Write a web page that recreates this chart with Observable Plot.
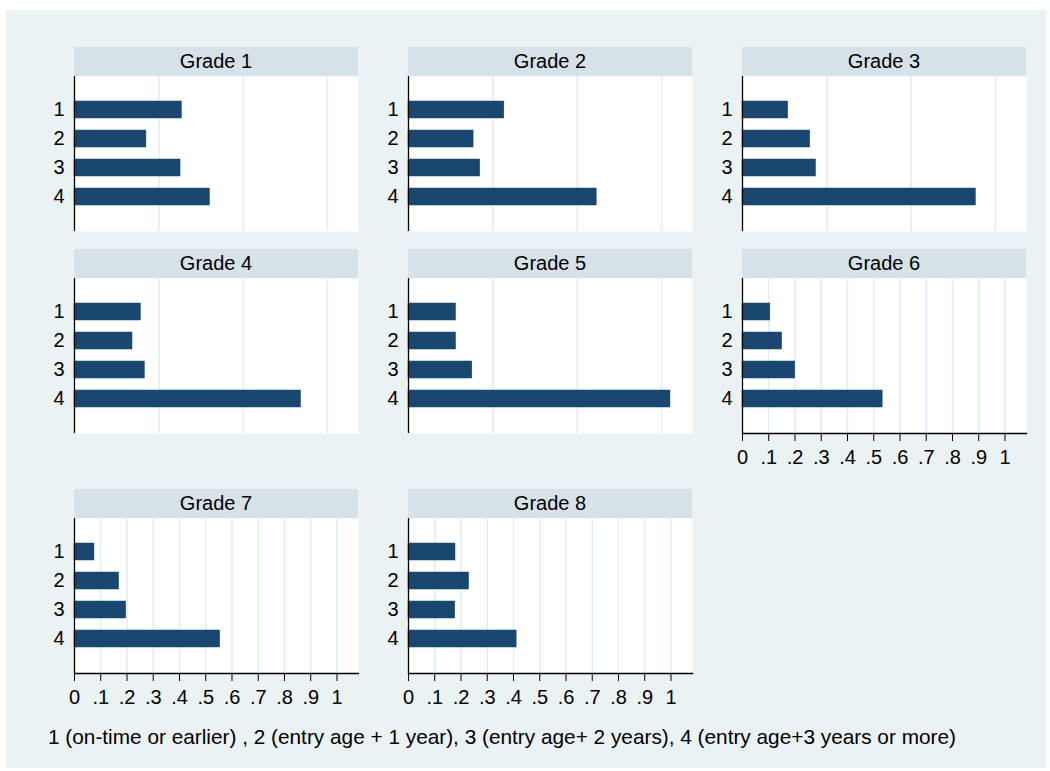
<!DOCTYPE html>
<html>
<head>
<meta charset="utf-8">
<script src="https://cdn.jsdelivr.net/npm/d3@7"></script>
<script src="https://cdn.jsdelivr.net/npm/@observablehq/plot@0.6"></script>
<style>
  body { margin: 0; background: #fff; font-family: Arial, "Liberation Sans", sans-serif; }
  #chart { position: relative; width: 1050px; height: 771px; background: #fff; overflow: hidden; }
  #region { position: absolute; left: 6px; top: 10px; width: 1040px; height: 758px; background: #eaf2f3; }
  .strip { position: absolute; height: 29px; background: #d6e2e7; color: #000; font-size: 20px;
           line-height: 29px; text-align: center; white-space: nowrap; }
  .panel { position: absolute; }
  .panel svg { display: block; }
  #note { position: absolute; left: 48px; top: 725px; font-size: 20.8px; line-height: 24px;
          color: #000; white-space: nowrap; }
</style>
</head>
<body>
<div id="chart">
  <div id="region"></div>
  <div id="note"></div>
</div>
<script>
// Share of pupils by entry-age group, one panel per grade
const grades = ["Grade 1", "Grade 2", "Grade 3", "Grade 4", "Grade 5", "Grade 6", "Grade 7", "Grade 8"];
const categories = ["1", "2", "3", "4"];
const grade1 = [0.409, 0.274, 0.404, 0.516];
const grade2 = [0.365, 0.248, 0.273, 0.717];
const grade3 = [0.174, 0.258, 0.280, 0.889];
const grade4 = [0.253, 0.221, 0.268, 0.863];
const grade5 = [0.181, 0.181, 0.243, 0.998];
const grade6 = [0.106, 0.151, 0.201, 0.534];
const grade7 = [0.076, 0.170, 0.197, 0.555];
const grade8 = [0.179, 0.231, 0.178, 0.412];
const shares = [grade1, grade2, grade3, grade4, grade5, grade6, grade7, grade8];

// x axis ticks shown under the panels that have nothing below them
const tickValues = [0, 0.1, 0.2, 0.3, 0.4, 0.5, 0.6, 0.7, 0.8, 0.9, 1];
const tickLabels = ["0", ".1", ".2", ".3", ".4", ".5", ".6", ".7", ".8", ".9", "1"];
const axisPanels = ["Grade 6", "Grade 7", "Grade 8"];
// grid of the panels whose x axis is hidden
const hiddenGrid = [0.322, 0.643, 0.964];
const xMax = 1.082;

const noteText = "1 (on-time or earlier) , 2 (entry age + 1 year), 3 (entry age+ 2 years), 4 (entry age+3 years or more)";

// layout
const colLeft = [74, 408, 742];
const rowTop = [47, 249, 489];
const plotW = 284, plotH = 155, stripH = 29, labelSpace = 74, axisSpace = 46;
const navy = "#1a476f", gridColor = "#e3ecf0";

const chart = document.getElementById("chart");
document.getElementById("note").textContent = noteText;

grades.forEach((g, i) => {
  const col = i % 3, row = Math.floor(i / 3);
  const left = colLeft[col], top = rowTop[row];
  const withAxis = axisPanels.includes(g);

  const strip = document.createElement("div");
  strip.className = "strip";
  strip.style.left = left + "px";
  strip.style.top = top + "px";
  strip.style.width = plotW + "px";
  strip.textContent = g;
  chart.appendChild(strip);

  const data = categories.map((c, j) => ({cat: c, value: shares[i][j]}));

  const svg = Plot.plot({
    width: plotW + labelSpace,
    height: plotH + (withAxis ? axisSpace : 0),
    marginLeft: labelSpace,
    marginRight: 0,
    marginTop: 0,
    marginBottom: withAxis ? axisSpace : 0,
    style: {background: "transparent", fontFamily: "Arial, 'Liberation Sans', sans-serif", fontSize: "20px", color: "#000", overflow: "visible"},
    x: {domain: [0, xMax], axis: null},
    y: {domain: categories, paddingInner: 0.4, paddingOuter: 0.86, axis: null},
    marks: [
      Plot.frame({fill: "white", stroke: null}),
      Plot.ruleX(withAxis ? tickValues.slice(1) : hiddenGrid, {stroke: gridColor, strokeWidth: 1.5}),
      Plot.barX(data, {x: "value", y: "cat", fill: navy, stroke: navy, strokeWidth: 0.5}),
      Plot.ruleX([0], {stroke: "#000", strokeWidth: 1.3}),
      Plot.axisY({tickSize: 0, tickPadding: 10, fontSize: 20, label: null}),
      withAxis ? Plot.frame({anchor: "bottom", stroke: "#000", strokeWidth: 1.3}) : null,
      withAxis ? Plot.axisX({ticks: tickValues, tickSize: 8, tickPadding: 8, fontSize: 20, label: null,
                             tickFormat: d => tickLabels[tickValues.indexOf(d)]}) : null
    ]
  });
  const wrap = document.createElement("div");
  wrap.className = "panel";
  wrap.style.left = (left - labelSpace) + "px";
  wrap.style.top = (top + stripH) + "px";
  wrap.appendChild(svg);
  chart.appendChild(wrap);
});
</script>
</body>
</html>
